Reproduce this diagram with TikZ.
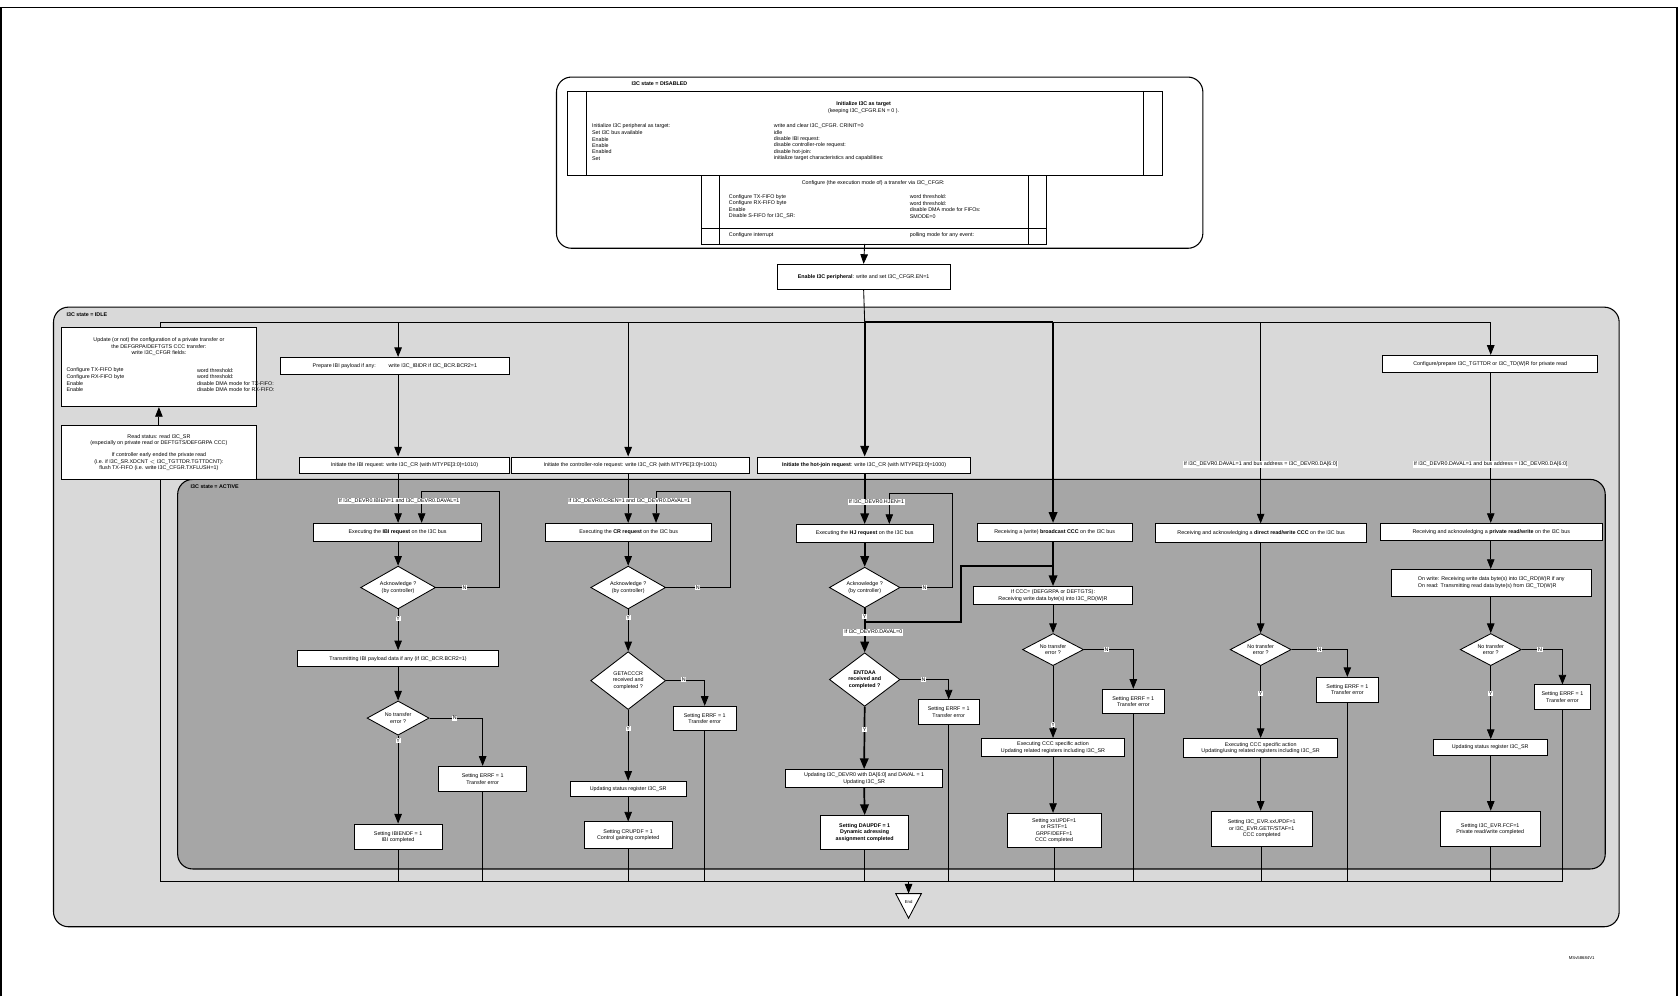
\documentclass[tikz,border=0pt]{standalone}
\usepackage{fontspec}
\setmainfont{Liberation Sans}
\usetikzlibrary{arrows.meta,shapes.geometric}
\newcommand\fs{\fontsize{5}{6}\selectfont}
\begin{document}
\begin{tikzpicture}[x=1pt,y=-1pt,
  box/.style={draw,fill=white,line width=0.8pt,font=\fs,align=center,inner sep=1pt},
  dia/.style={draw,fill=white,line width=0.8pt,diamond,font=\fs,align=center,inner sep=0pt},
  ln/.style={line width=0.8pt},
  tk/.style={line width=1.6pt},
  arr/.style={ln,-{Triangle[length=9pt,width=7pt]}},
  tarr/.style={tk,-{Triangle[length=10pt,width=8pt]}},
  yn/.style={fill=white,font=\fs,inner sep=0.6pt},
  lab/.style={fill=white,font=\fs,inner sep=0.8pt},
  txt/.style={font=\fs,inner sep=0pt,anchor=west}]
\useasboundingbox (0,0) rectangle (1568,931);
\draw[line width=1.5pt] (1,931) -- (1,7) -- (1567,7) -- (1567,931);
% ---------- DISABLED
\draw[line width=1pt,rounded corners=14pt,fill=white] (520,72) rectangle (1124,232);
\node[txt,font=\fs\bfseries] (dislab) at (590,78) {I3C state = DISABLED};
\draw[line width=0.8pt] (530,85) rectangle (1086,164);
\draw[ln] (548,85) -- (548,164) (1068,85) -- (1068,164);
\node[font=\fs\bfseries,inner sep=0pt] (it) at (807,97) {Initialize I3C as target};
\node[font=\fs,inner sep=0pt] (it2) at (807,103.5) {(keeping I3C\_CFGR.EN = 0 ).};
\foreach \y/\a/\b in {118/Initialize I3C peripheral as target:/write and clear I3C\_CFGR. CRINIT=0,
  124/Set I3C bus available/idle/hand-off condition timings:/write I3C\_TIMINGR1.AVAL[7:0],
  130/Enable/disable IBI request:/write I3C\_DEVR0.IBIEN,
  136/Enable/disable controller-role request:/write I3C\_DEVR0.CREN,
  142/Enabled/disable hot-join:/write I3C\_DEVR0.HJEN,
  148/Set/initialize target characteristics and capabilities:/{write I3C\_BCR, I3C\_DCR, I3C\_MAXRLR, I3C\_MAXWLR, I3C\_GETCAPR, I3C\_CRCAP, I3C\_GETMXDSR, I3C\_EPIDR}}
  {\node[txt] at (553,\y) {\a}; \node[txt] at (723,\y) {\b};}
\draw[line width=0.8pt] (655,164) rectangle (978,228);
\draw[ln] (672,164) -- (672,228) (961,164) -- (961,228) (655,213) -- (978,213);
\node[font=\fs,inner sep=0pt] (ct) at (816,171) {Configure (the execution mode of) a transfer via I3C\_CFGR:};
\foreach \y/\a/\b in {184/Configure TX-FIFO byte/word threshold:/TXTHRES,
  190/Configure RX-FIFO byte/word threshold:/RXTHRES,
  196/Enable/disable DMA mode for FIFOs:/{TXDMAEN, RXDMAEN},
  202/Disable S-FIFO for I3C\_SR:/SMODE=0,
  220/Configure interrupt/polling mode for any event:/write I3C\_IER}
  {\node[txt] at (681,\y) {\a}; \node[txt] at (850,\y) {\b};}
\coordinate (cfgb) at (808,228);
\node[box,minimum width=162,minimum height=23] (enable) at (807,258.5) {\textbf{Enable I3C peripheral}: write and set I3C\_CFGR.EN=1};
\draw[arr] (cfgb) -- (enable.north);
% ---------- IDLE
\draw[line width=1pt,rounded corners=14pt,fill=black!15] (50,287) rectangle (1513,866);
\node[txt,font=\fs\bfseries] (idlab) at (62,294) {I3C state = IDLE};
% ---------- ACTIVE
\draw[line width=1pt,rounded corners=14pt,fill=black!35] (166,448) rectangle (1500,812);
\node[txt,font=\fs\bfseries] (aclab) at (178,455) {I3C state = ACTIVE};
% bus coordinates
\coordinate (bL) at (150,301); \coordinate (bI) at (372,301); \coordinate (bC) at (587,301);
\coordinate (bH) at (808,301); \coordinate (bB) at (984,301); \coordinate (bD) at (1178,301);
\coordinate (bP) at (1393,301);
\draw[ln] (enable.south) -- (bH);
\draw[ln] (bL) -- (bP);
\draw[tk] (bH) -- (bB);
% left boxes
\node[box,minimum width=183,minimum height=74] (update) at (148.5,343) {};
\node[font=\fs,align=center,inner sep=0pt] at (148.5,324) {Update (or not) the configuration of a private transfer or\\the DEFGRPA/DEFTGTS CCC transfer:\\write I3C\_CFGR fields:};
\foreach \y/\a/\b in {346/Configure TX-FIFO byte/word threshold:/TXTHRES,
  352/Configure RX-FIFO byte/word threshold:/RXTHRES,
  358/Enable/disable DMA mode for TX-FIFO:/TXDMAEN,
  364/Enable/disable DMA mode for RX-FIFO:/RXDMAEN}
  {\node[txt] at (62,\y) {\a}; \node[txt] at (184,\y) {\b};}
\node[box,minimum width=183,minimum height=50] (read) at (148.5,423) {Read status: read I3C\_SR\\(especially on private read or DEFTGTS/DEFGRPA CCC)\\[5pt]If controller early ended the private read\\(i.e. if I3C\_SR.XDCNT $<$ I3C\_TGTTDR.TGTTDCNT):\\flush TX-FIFO (i.e. write I3C\_CFGR.TXFLUSH=1)};
\draw[arr] (read.north) -- (update.south);
\draw[ln] (update.north -| bL) -- (bL);
% IDLE boxes
\node[box,minimum width=214,minimum height=16] (prep) at (369,342) {Prepare IBI payload if any:\hspace{12pt}write I3C\_IBIDR if I3C\_BCR.BCR2=1};
\node[box,minimum width=196,minimum height=15] (initI) at (378,434.5) {Initiate the IBI request: write I3C\_CR (with MTYPE[3:0]=1010)};
\node[box,minimum width=222,minimum height=15] (initC) at (589,434.5) {Initiate the controller-role request: write I3C\_CR (with MTYPE[3:0]=1001)};
\node[box,minimum width=199,minimum height=15] (initH) at (807.5,434.5) {\textbf{Initiate the hot-join request}: write I3C\_CR (with MTYPE[3:0]=1000)};
\node[box,minimum width=201,minimum height=16] (cfgp) at (1392.5,340) {Configure/prepare I3C\_TGTTDR or I3C\_TD(W)R for private read};
% ACTIVE boxes
\node[box,minimum width=157,minimum height=17] (exI) at (371.5,497.5) {Executing the \textbf{IBI request} on the I3C bus};
\node[box,minimum width=155,minimum height=17] (exC) at (587.5,497.5) {Executing the \textbf{CR request} on the I3C bus};
\node[box,minimum width=128,minimum height=17] (exH) at (808,498.5) {Executing the \textbf{HJ request} on the I3C bus};
\node[box,minimum width=145,minimum height=17] (bc) at (985.5,497.5) {Receiving a (write) \textbf{broadcast CCC} on the I3C bus};
\node[box,minimum width=197,minimum height=17] (dir) at (1178.5,498) {Receiving and acknowledging a \textbf{direct read/write CCC} on the I3C bus};
\node[box,minimum width=207,minimum height=16] (prv) at (1393.5,497) {Receiving and acknowledging a \textbf{private read/write} on the I3C bus};
\node[box,minimum width=148,minimum height=17] (ifccc) at (984,556.5) {If CCC= (DEFGRPA or DEFTGTS):\\Receiving write data byte(s) into I3C\_RD(W)R};
\node[box,minimum width=187,minimum height=25,align=left] (onw) at (1393.5,544.5) {On write: Receiving write data byte(s) into I3C\_RD(W)R if any\\On read: Transmitting read data byte(s) from I3C\_TD(W)R};
\node[dia,minimum width=70,minimum height=40,aspect=1.75] (a1) at (372,549) {Acknowledge ?\\(by controller)};
\node[dia,minimum width=70,minimum height=40,aspect=1.75] (a2) at (587,549) {Acknowledge ?\\(by controller)};
\node[dia,minimum width=66,minimum height=38,aspect=1.75] (a3) at (808,549) {Acknowledge ?\\(by controller)};
\node[box,minimum width=188,minimum height=15] (tr) at (372,615.5) {Transmitting IBI payload data if any (if I3C\_BCR.BCR2=1)};
\node[dia,minimum width=58,minimum height=32,aspect=1.8] (n1) at (372,671) {No transfer\\error ?};
\node[dia,minimum width=57,minimum height=30,aspect=1.9] (n2) at (984,607) {No transfer\\error ?};
\node[dia,minimum width=57,minimum height=30,aspect=1.9] (n3) at (1178,607) {No transfer\\error ?};
\node[dia,minimum width=57,minimum height=30,aspect=1.9] (n4) at (1393,607) {No transfer\\error ?};
\node[dia,minimum width=70,minimum height=54,aspect=1.3] (ga) at (587,636) {GETACCCR\\received and\\completed ?};
\node[dia,minimum width=66,minimum height=50,aspect=1.3,font=\fs\bfseries] (en) at (808,635) {ENTDAA\\received and\\completed ?};
\node[box,minimum width=82,minimum height=24] (e1) at (451,728) {Setting ERRF = 1\\Transfer error};
\node[box,minimum width=59,minimum height=23] (e2) at (658.5,671.5) {Setting ERRF = 1\\Transfer error};
\node[box,minimum width=57,minimum height=23] (e3) at (886.5,665.5) {Setting ERRF = 1\\Transfer error};
\node[box,minimum width=58,minimum height=23] (e4) at (1059,655.5) {Setting ERRF = 1\\Transfer error};
\node[box,minimum width=58,minimum height=23] (e5) at (1259,644.5) {Setting ERRF = 1\\Transfer error};
\node[box,minimum width=52,minimum height=23] (e6) at (1460,651.5) {Setting ERRF = 1\\Transfer error};
\node[box,minimum width=82,minimum height=24] (ibe) at (372,782) {Setting IBIENDF = 1\\IBI completed};
\node[box,minimum width=108,minimum height=14] (uc) at (587,737) {Updating status register I3C\_SR};
\node[box,minimum width=82,minimum height=25] (cru) at (587,780.5) {Setting CRUPDF = 1\\Control gaining completed};
\node[box,minimum width=147,minimum height=17] (ud) at (807.5,727.5) {Updating I3C\_DEVR0 with DA[6:0] and DAVAL = 1\\Updating I3C\_SR};
\node[box,minimum width=82,minimum height=32,font=\fs\bfseries] (dau) at (808,778) {Setting DAUPDF = 1\\Dynamic adressing\\assignment completed};
\node[box,minimum width=134,minimum height=17] (x2) at (984,698.5) {Executing CCC specific action\\Updating related registers including I3C\_SR};
\node[box,minimum width=88,minimum height=32] (s2) at (985,776) {Setting xxUPDF=1\\or RSTF=1\\GRPF/DEFF=1\\CCC completed};
\node[box,minimum width=144,minimum height=18] (x3) at (1178,699) {Executing CCC specific action\\Updating/using related registers including I3C\_SR};
\node[box,minimum width=94,minimum height=33] (s3) at (1179,774.5) {Setting I3C\_EVR.xxUPDF=1\\or I3C\_EVR.GETF/STAF=1\\CCC completed};
\node[box,minimum width=107,minimum height=15] (u4) at (1392.5,698.5) {Updating status register I3C\_SR};
\node[box,minimum width=93,minimum height=33] (fcf) at (1392.5,774.5) {Setting I3C\_EVR.FCF=1\\Private read/write completed};
% ---------- connectors IBI
\draw[arr] (bI) -- (prep.north -| bI);
\draw[arr] (prep.south -| bI) -- (initI.north -| bI);
\draw[arr] (initI.south -| bI) -- (exI.north -| bI);
\coordinate (rI) at (467,459); \coordinate (lI) at (394,459);
\draw[arr] (a1.east) -| (rI) -- (lI) -- (exI.north -| lI);
\draw[arr] (exI.south -| bI) -- (a1.north);
\draw[arr] (a1.south) -- (tr.north -| bI);
\draw[arr] (tr.south -| bI) -- (n1.north);
\draw[arr] (n1.south) -- (ibe.north);
\draw[arr] (n1.east) -| (e1.north);
% CR
\draw[arr] (bC) -- (initC.north -| bC);
\draw[arr] (initC.south -| bC) -- (exC.north -| bC);
\coordinate (rC) at (683,459); \coordinate (lC) at (613,459);
\draw[arr] (a2.east) -| (rC) -- (lC) -- (exC.north -| lC);
\draw[arr] (exC.south -| bC) -- (a2.north);
\draw[arr] (a2.south) -- (ga.north);
\draw[arr] (ga.south) -- (uc.north);
\draw[arr] (uc.south) -- (cru.north);
\draw[arr] (ga.east) -| (e2.north);
% HJ
\draw[tarr] (bH) -- (initH.north -| bH);
\draw[tarr] (initH.south -| bH) -- (exH.north);
\coordinate (rH) at (890,461); \coordinate (lH) at (831,461);
\draw[arr] (a3.east) -| (rH) -- (lH) -- (exH.north -| lH);
\draw[tarr] (exH.south) -- (a3.north);
\coordinate (jH) at (808,581); \coordinate (jm) at (898,581); \coordinate (jB) at (984,529);
\draw[tk] (a3.south) -- (jH);
\draw[tk] (jB) -| (jm) |- (jH);
\draw[tarr] (jH) -- (en.north);
\draw[tarr] (en.south) -- (ud.north);
\draw[tarr] (ud.south) -- (dau.north);
\draw[arr] (en.east) -| (e3.north);
% broadcast
\draw[tarr] (bB) -- (bc.north -| bB);
\draw[tk] (bc.south -| bB) -- (jB);
\draw[tarr] (jB) -- (ifccc.north);
\draw[arr] (ifccc.south) -- (n2.north);
\draw[arr] (n2.south) -- (x2.north -| n2);
\draw[arr] (x2.south -| n2) -- (s2.north -| n2);
\draw[arr] (n2.east) -| (e4.north);
% direct
\draw[arr] (bD) -- (dir.north -| bD);
\draw[arr] (dir.south -| bD) -- (n3.north);
\draw[arr] (n3.south) -- (x3.north -| n3);
\draw[arr] (x3.south -| n3) -- (s3.north -| n3);
\draw[arr] (n3.east) -| (e5.north);
% private
\draw[arr] (bP) -- (cfgp.north -| bP);
\draw[arr] (cfgp.south -| bP) -- (prv.north -| bP);
\draw[arr] (prv.south -| bP) -- (onw.north -| bP);
\draw[arr] (onw.south -| bP) -- (n4.north);
\draw[arr] (n4.south) -- (u4.north -| n4);
\draw[arr] (u4.south -| n4) -- (fcf.north -| n4);
\draw[arr] (n4.east) -| (e6.north);
% bottom collector
\coordinate (kL) at (150,824); \coordinate (kR) at (1460,824);
\draw[ln] (kL) -- (kR);
\draw[ln] (kL) -- (read.south -| kL);
\foreach \n in {ibe,e1,cru,e2,dau,e3,s2,e4,s3,e5,fcf,e6} {\draw[ln] (\n.south) -- (\n.south |- kL);}
\coordinate (kE) at (849,824); \coordinate (et) at (849,835);
\draw[arr] (kE) -- (et);
\draw[ln,fill=white] (837,835) -- (861,835) -- (849,858) -- cycle;
\node[font=\fontsize{4}{5}\selectfont,inner sep=0pt] (endn) at (849,843) {End};
% labels
\node[lab] at (373,468) {If I3C\_DEVR0.IBIEN=1 and I3C\_DEVR0.DAVAL=1};
\node[lab] at (588,468) {If I3C\_DEVR0.CREN=1 and I3C\_DEVR0.DAVAL=1};
\node[lab] at (819,469) {If I3C\_DEVR0.HJEN=1};
\node[lab] at (816,591) {If I3C\_DEVR0.DAVAL=0};
\node[lab] at (1178,434) {If I3C\_DEVR0.DAVAL=1 and bus address = I3C\_DEVR0.DA[6:0]};
\node[lab] at (1393,434) {If I3C\_DEVR0.DAVAL=1 and bus address = I3C\_DEVR0.DA[6:0]};
\foreach \p/\t in {{434,549}/N,{372,578}/Y,{425,671}/N,{372,692}/Y,
  {652,549}/N,{587,577}/Y,{639,635}/N,{587,681}/Y,
  {864,549}/N,{808,576}/Y,{863,635}/N,{808,682}/Y,
  {1034,607}/N,{984,677}/Y,{1233,607}/N,{1178,648}/Y,{1439,607}/N,{1393,648}/Y}
  {\node[yn] at (\p) {\t};}
\node[font=\fontsize{4}{5}\selectfont,inner sep=0pt] (msv) at (1478,895) {MSv58684V1};
\end{tikzpicture}
\end{document}
